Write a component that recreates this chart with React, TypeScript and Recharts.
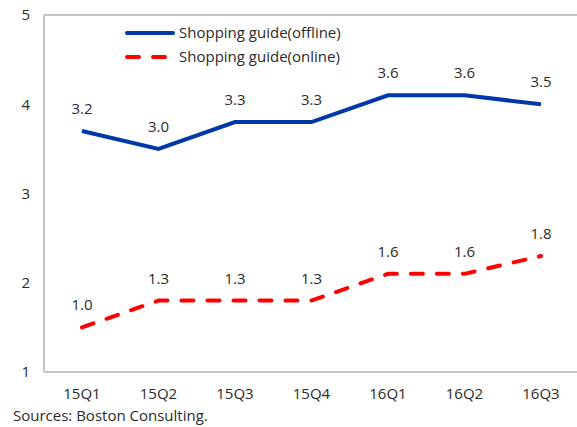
import { LineChart, Line, XAxis, YAxis, LabelList, ReferenceLine } from "recharts";

const quarters = ["15Q1", "15Q2", "15Q3", "15Q4", "16Q1", "16Q2", "16Q3"];
// plotted positions
const offlineValues = [3.7, 3.5, 3.8, 3.8, 4.1, 4.1, 4.0];
const onlineValues = [1.5, 1.8, 1.8, 1.8, 2.1, 2.1, 2.3];
// the labels printed above the points (they differ from the axis position in the source)
const offlineLabels = ["3.2", "3.0", "3.3", "3.3", "3.6", "3.6", "3.5"];
const onlineLabels = ["1.0", "1.3", "1.3", "1.3", "1.6", "1.6", "1.8"];
const yTicks = [1, 2, 3, 4, 5];

const FONT = "'Open Sans', 'Noto Sans', sans-serif";
const BLUE = "#0038a8";
const RED = "#ff0000";
const AXIS = "#c4c4c4";
const TEXT = "#2b2b2b";

const data = quarters.map((q, i) => ({
  q,
  offline: offlineValues[i],
  online: onlineValues[i],
  offlineLabel: offlineLabels[i],
  onlineLabel: onlineLabels[i],
}));

const legendItems = [
  { name: "Shopping guide(offline)", color: BLUE, dash: undefined },
  { name: "Shopping guide(online)", color: RED, dash: "12 14" },
];

function LegendBox() {
  return (
    <svg width={260} height={50} style={{ display: "block" }}>
      {legendItems.map((s, i) => (
        <g key={s.name}>
          <line
            x1={9}
            x2={55}
            y1={11 + i * 24}
            y2={11 + i * 24}
            stroke={s.color}
            strokeWidth={4}
            strokeLinecap="round"
            strokeDasharray={s.dash}
          />
          <text x={61} y={11 + i * 24} dy="0.35em" fontSize={15} fill={TEXT} fontFamily={FONT}>
            {s.name}
          </text>
        </g>
      ))}
    </svg>
  );
}

export default function App() {
  return (
    <div style={{ position: "fixed", left: 0, top: 0, width: 577, height: 427, overflow: "hidden", background: "#fff" }}>
      <LineChart width={600} height={427} data={data} margin={{ top: 15, right: 21, left: 0, bottom: 25 }}>
        <XAxis
          dataKey="q"
          height={30}
          padding={{ left: 38, right: 38 }}
          tickLine={false}
          tickSize={0}
          tickMargin={16}
          axisLine={{ stroke: AXIS, strokeWidth: 2 }}
          tick={{ fontSize: 15, fill: TEXT, fontFamily: FONT }}
        />
        <YAxis
          domain={[1, 5]}
          ticks={yTicks}
          width={44}
          tickLine={false}
          tickSize={0}
          tickMargin={14}
          axisLine={{ stroke: AXIS, strokeWidth: 2 }}
          tick={{ fontSize: 15, fill: TEXT, fontFamily: FONT }}
        />
        <ReferenceLine y={5} stroke={AXIS} strokeWidth={2} />
        <Line
          dataKey="offline"
          name="Shopping guide(offline)"
          stroke={BLUE}
          strokeWidth={4}
          dot={false}
          activeDot={false}
          isAnimationActive={false}
        >
          <LabelList dataKey="offlineLabel" position="top" offset={17} fontSize={15} fill={TEXT} fontFamily={FONT} />
        </Line>
        <Line
          dataKey="online"
          name="Shopping guide(online)"
          stroke={RED}
          strokeWidth={4}
          strokeDasharray="12 14"
          strokeLinecap="round"
          dot={false}
          activeDot={false}
          isAnimationActive={false}
        >
          <LabelList dataKey="onlineLabel" position="top" offset={17} fontSize={15} fill={TEXT} fontFamily={FONT} />
        </Line>
      </LineChart>
      <div style={{ position: "absolute", left: 118, top: 22 }}>
        <LegendBox />
      </div>
      <div
        style={{
          position: "absolute",
          left: 13,
          top: 405,
          fontSize: 15,
          lineHeight: "20px",
          color: TEXT,
          fontFamily: FONT,
          whiteSpace: "nowrap",
        }}
      >
        Sources: Boston Consulting.
      </div>
    </div>
  );
}
